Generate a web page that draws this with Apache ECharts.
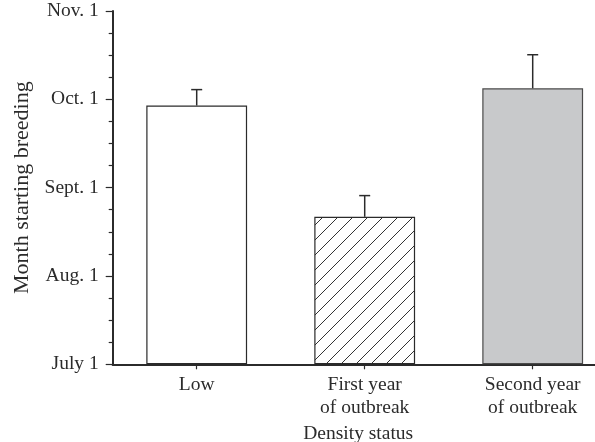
<!DOCTYPE html>
<html>
<head>
<meta charset="utf-8">
<script src="https://cdn.jsdelivr.net/npm/echarts@6/dist/echarts.min.js"></script>
<style>
html,body{margin:0;padding:0;background:#fff;}
#chart{width:595px;height:442px;}
</style>
</head>
<body>
<div id="chart"></div>
<script>
// Data (months after July 1)
const categories = ['Low', 'First year\nof outbreak', 'Second year\nof outbreak'];
const meanStart = [2.93, 1.67, 3.125];
const seUpper = [0.18, 0.24, 0.38];
const yTickLabels = ['July 1', 'Aug. 1', 'Sept. 1', 'Oct. 1', 'Nov. 1'];
const xTitle = 'Density status';
const yTitle = 'Month starting breeding';

const FONT = '"Liberation Serif", "Times New Roman", serif';
const INK = '#2b2b2b';

// hatch pattern
function makeHatch() {
  const s = 15;
  const c = document.createElement('canvas');
  c.width = s; c.height = s;
  const g = c.getContext('2d');
  g.fillStyle = '#ffffff';
  g.fillRect(0, 0, s, s);
  g.strokeStyle = '#333333';
  g.lineWidth = 1;
  g.beginPath();
  g.moveTo(-1, s + 1); g.lineTo(s + 1, -1);
  g.moveTo(-1, 1); g.lineTo(1, -1);
  g.moveTo(s - 1, s + 1); g.lineTo(s + 1, s - 1);
  g.stroke();
  return c;
}
const fills = ['#ffffff', { image: makeHatch(), repeat: 'repeat' }, '#c8c9cb'];
const borders = [INK, INK, '#4a4a4a'];

const chart = echarts.init(document.getElementById('chart'), null, { renderer: 'canvas' });

const barData = meanStart.map((v, i) => ({
  value: v,
  itemStyle: { color: fills[i], borderColor: borders[i], borderWidth: 1.2 }
}));
const errData = meanStart.map((v, i) => [i, v, v + seUpper[i]]);

chart.setOption({
  animation: false,
  backgroundColor: '#ffffff',
  grid: { left: 112.7, top: 11, height: 353.3, width: 504, containLabel: false, outerBoundsMode: 'none' },
  xAxis: {
    type: 'category',
    data: categories,
    boundaryGap: true,
    name: xTitle,
    nameLocation: 'middle',
    nameGap: 56,
    nameTextStyle: { fontFamily: FONT, fontSize: 19.5, color: INK, padding: [0, 13, 0, 0] },
    axisLine: { show: true, lineStyle: { color: INK, width: 2 } },
    axisTick: { show: true, alignWithLabel: true, length: 5, lineStyle: { color: INK, width: 1.2 } },
    axisLabel: { fontFamily: FONT, fontSize: 19.5, color: INK, margin: 9, lineHeight: 23 },
    splitLine: { show: false }
  },
  yAxis: {
    type: 'value',
    min: 0, max: 4, interval: 1,
    name: yTitle,
    nameLocation: 'middle',
    nameGap: 78,
    nameTextStyle: { fontFamily: FONT, fontSize: 22, color: INK },
    axisLine: { show: true, lineStyle: { color: INK, width: 2 } },
    axisTick: { show: true, length: 7, lineStyle: { color: INK, width: 1.2 } },
    minorTick: { show: true, splitNumber: 4, length: 4, lineStyle: { color: INK, width: 1.2 } },
    axisLabel: {
      fontFamily: FONT, fontSize: 19.5, color: INK, margin: 14,
      formatter: (v) => yTickLabels[Math.round(v)]
    },
    splitLine: { show: false }
  },
  series: [
    {
      type: 'bar',
      data: barData,
      barWidth: '60%',
      z: 2
    },
    {
      type: 'custom',
      data: errData,
      z: 3,
      renderItem: function (params, api) {
        const i = api.value(0);
        const base = api.coord([i, api.value(1)]);
        const top = api.coord([i, api.value(2)]);
        const hw = 5.5;
        return {
          type: 'group',
          children: [
            { type: 'line', shape: { x1: base[0], y1: base[1], x2: top[0], y2: top[1] },
              style: { stroke: INK, lineWidth: 1.5 } },
            { type: 'line', shape: { x1: top[0] - hw, y1: top[1], x2: top[0] + hw, y2: top[1] },
              style: { stroke: INK, lineWidth: 1.5 } }
          ]
        };
      }
    }
  ]
});
</script>
</body>
</html>
